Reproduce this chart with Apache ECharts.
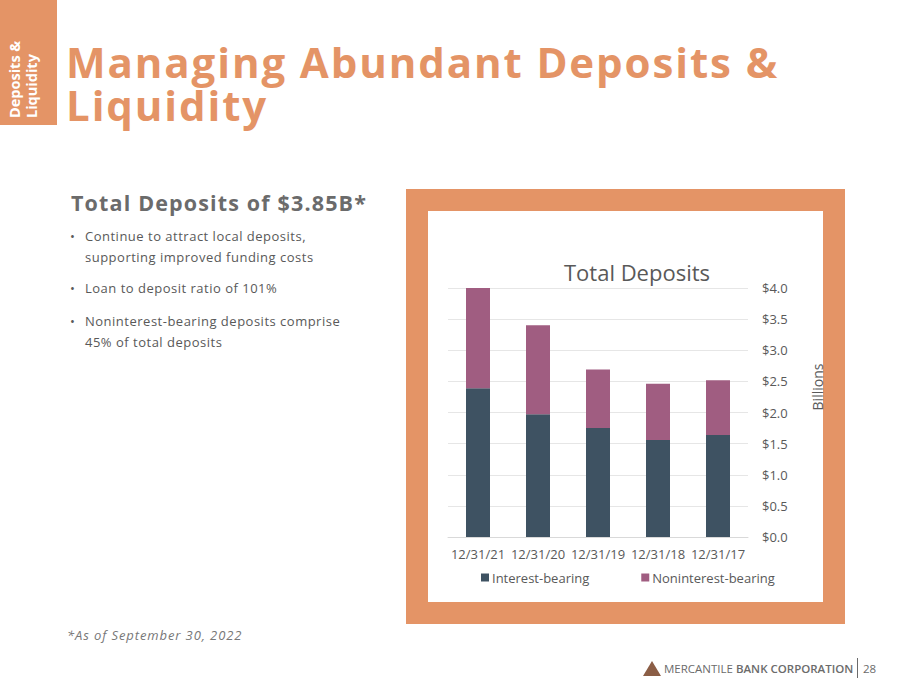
<!DOCTYPE html>
<html>
<head>
<meta charset="utf-8">
<script src="https://cdn.jsdelivr.net/npm/echarts@6/dist/echarts.min.js"></script>
<style>
  html, body { margin:0; padding:0; background:#ffffff; }
  body { width:900px; height:695px; position:relative; overflow:hidden; font-family:"Open Sans", "Noto Sans", sans-serif; }
  .tab { position:absolute; left:0; top:0; width:57px; height:125px; background:#E49466; }
  .tabtext { position:absolute; left:6px; top:118px; transform-origin:0 0; transform:rotate(-90deg);
    color:#fff; font-weight:700; font-size:14.5px; line-height:17px; white-space:nowrap; }
  .title { position:absolute; left:66px; color:#E49466; font-weight:700; font-size:42px; line-height:42px; letter-spacing:1.9px; white-space:nowrap; }
  .sub { position:absolute; left:71px; top:188px; color:#6b6b6b; font-weight:700; font-size:21.5px; letter-spacing:1.15px; white-space:nowrap; }
  .bul { position:absolute; left:70px; color:#595959; font-size:13px; line-height:21px; letter-spacing:0.5px; white-space:nowrap; }
  .bul span.dot { position:absolute; left:0; top:0; }
  .bul span.t { display:block; margin-left:15px; }
  .foot { position:absolute; left:67px; top:626px; color:#777; font-style:italic; font-size:13px; letter-spacing:0.9px; }
  .frame { position:absolute; left:406px; top:189px; width:395px; height:391px; border:22.5px solid #E49466; background:#fff; }
  #chart { position:absolute; left:0; top:0; width:900px; height:695px; }
  .brand { position:absolute; left:643px; top:660px; color:#6b6b6b; font-size:11.5px; white-space:nowrap; }
  .tri { position:absolute; left:643px; top:661px; width:0; height:0; border-left:9px solid transparent; border-right:9px solid transparent; border-bottom:15px solid #8B5E46; }
</style>
</head>
<body>
<div class="tab"><div class="tabtext">Deposits &amp;<br>Liquidity</div></div>
<div class="title" style="top:41px">Managing Abundant Deposits &amp;</div>
<div class="title" style="top:84px">Liquidity</div>
<div class="sub">Total Deposits of $3.85B*</div>
<div class="bul" style="top:226px"><span class="dot">•</span><span class="t">Continue to attract local deposits,<br>supporting improved funding costs</span></div>
<div class="bul" style="top:278px"><span class="dot">•</span><span class="t">Loan to deposit ratio of 101%</span></div>
<div class="bul" style="top:311px"><span class="dot">•</span><span class="t">Noninterest-bearing deposits comprise<br>45% of total deposits</span></div>
<div class="foot">*As of September 30, 2022</div>
<div class="frame"></div>
<div id="chart"></div>
<div class="tri"></div>
<div class="brand" style="left:664px;top:661px;">MERCANTILE <b style="font-weight:600">BANK CORPORATION</b></div>
<div style="position:absolute;left:857px;top:658px;width:1px;height:20px;background:#6b6b6b;"></div>
<div class="brand" style="left:863px;top:661px;">28</div>
<script>
const categories = ['12/31/21', '12/31/20', '12/31/19', '12/31/18', '12/31/17'];
const interestBearing = [2.39, 1.97, 1.75, 1.56, 1.64];
const noninterestBearing = [1.61, 1.43, 0.94, 0.90, 0.88];
const yMin = 0, yMax = 4.0, yStep = 0.5;
const yAxisTitle = 'Billions';

const chart = echarts.init(document.getElementById('chart'), null, { renderer: 'svg' });
chart.setOption({
  backgroundColor: 'transparent',
  animation: false,
  title: {
    text: 'Total Deposits', left: 632, top: 256, textAlign: 'center',
    textStyle: { color: '#595959', fontSize: 22, fontWeight: 'normal', fontFamily: 'Open Sans' }
  },
  graphic: [{
    type: 'text', x: 817, y: 387, rotation: Math.PI / 2,
    style: { text: yAxisTitle, fill: '#595959', fontSize: 14, fontFamily: 'Open Sans',
      align: 'center', verticalAlign: 'middle', textAlign: 'center', textVerticalAlign: 'middle' }
  }],
  legend: {
    left: 476, top: 566, icon: 'rect', itemWidth: 8, itemHeight: 8, itemGap: 52,
    textStyle: { color: '#595959', fontSize: 13, fontFamily: 'Open Sans', padding: [0, 0, 0, -2] },
    data: ['Interest-bearing', 'Noninterest-bearing']
  },
  grid: { left: 448, top: 288, width: 300, height: 249, containLabel: false },
  xAxis: {
    type: 'category', data: categories,
    axisLine: { lineStyle: { color: '#d9d9d9' } },
    axisTick: { show: false },
    axisLabel: { color: '#595959', fontSize: 13, margin: 10, interval: 0, fontFamily: 'Open Sans' }
  },
  yAxis: {
    type: 'value', position: 'right', min: yMin, max: yMax, interval: yStep,
    axisLine: { show: false }, axisTick: { show: false },
    splitLine: { lineStyle: { color: '#e6e6e6' } },
    axisLabel: { color: '#595959', fontSize: 13, margin: 14, fontFamily: 'Open Sans',
      formatter: v => '$' + v.toFixed(1) }
  },
  series: [
    { name: 'Interest-bearing', type: 'bar', stack: 'dep', data: interestBearing,
      barWidth: 24, itemStyle: { color: '#3E5262' } },
    { name: 'Noninterest-bearing', type: 'bar', stack: 'dep', data: noninterestBearing,
      barWidth: 24, itemStyle: { color: '#A05D81' } }
  ]
});
</script>
</body>
</html>
